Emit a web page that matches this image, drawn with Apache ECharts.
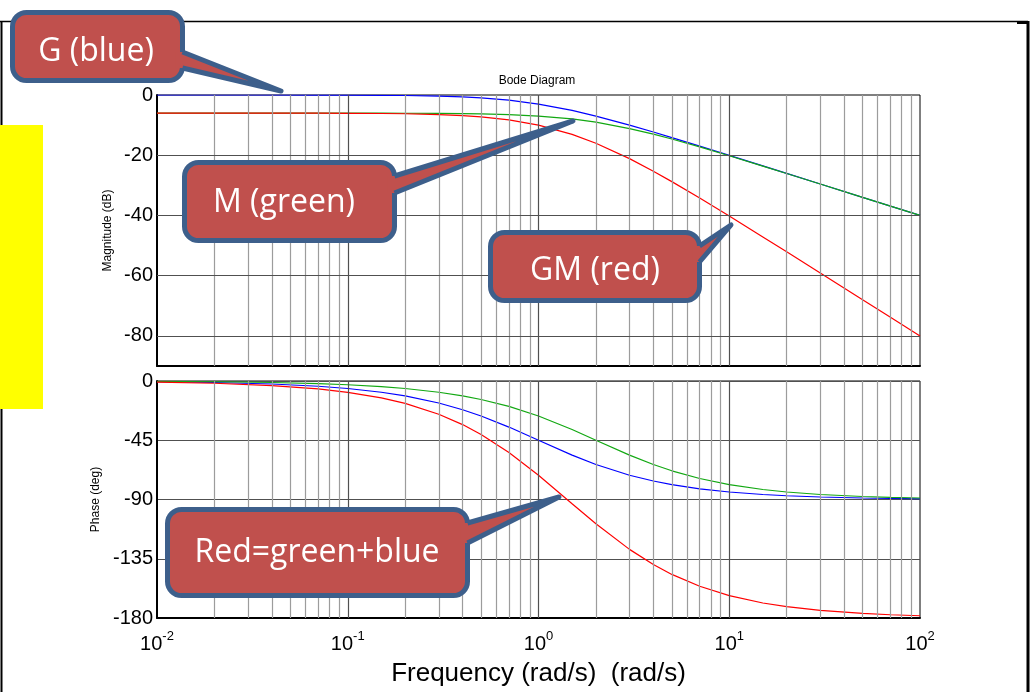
<!DOCTYPE html>
<html>
<head>
<meta charset="utf-8">
<script src="https://cdn.jsdelivr.net/npm/echarts@6/dist/echarts.min.js"></script>
<style>
html,body{margin:0;padding:0;background:#fff;}
#c{width:1032px;height:692px;}
</style>
</head>
<body>
<div id="c"></div>
<script>
// ---- data ----
const freq = [0.01, 0.02, 0.04, 0.07, 0.1, 0.15, 0.2, 0.3, 0.4, 0.5, 0.7, 1, 1.5, 2, 3, 4, 5, 7, 10, 15, 20, 30, 50, 70, 100];
const magG  = [0, -0.002, -0.007, -0.02, -0.04, -0.1, -0.17, -0.37, -0.65, -0.97, -1.73, -3.01, -5.12, -6.99, -10.0, -12.3, -14.15, -16.99, -20.04, -23.54, -26.03, -29.55, -33.98, -36.9, -40.0];
const magM  = [-6.02, -6.02, -6.02, -6.03, -6.03, -6.04, -6.06, -6.12, -6.19, -6.28, -6.52, -6.99, -7.96, -9.03, -11.14, -13.01, -14.62, -17.24, -20.17, -23.6, -26.06, -29.56, -33.99, -36.91, -40.0];
const magGM = [-6.02, -6.02, -6.03, -6.05, -6.07, -6.14, -6.23, -6.49, -6.84, -7.25, -8.25, -10.0, -13.08, -16.02, -21.14, -25.31, -28.77, -34.23, -40.21, -47.14, -52.09, -59.11, -67.97, -73.81, -80.0];
const phG  = [-0.57, -1.15, -2.29, -4.0, -5.71, -8.53, -11.31, -16.7, -21.8, -26.57, -34.99, -45, -56.31, -63.43, -71.57, -75.96, -78.69, -81.87, -84.29, -86.19, -87.14, -88.09, -88.85, -89.18, -89.43];
const phM  = [-0.29, -0.57, -1.15, -2.0, -2.86, -4.29, -5.71, -8.53, -11.31, -14.04, -19.29, -26.57, -36.87, -45, -56.31, -63.43, -68.2, -74.05, -78.69, -82.41, -84.29, -86.19, -87.71, -88.36, -88.85];
const phGM = [-0.86, -1.72, -3.44, -6.0, -8.57, -12.82, -17.02, -25.23, -33.11, -40.61, -54.28, -71.57, -93.18, -108.43, -127.88, -139.39, -146.89, -155.92, -162.98, -168.6, -171.43, -174.28, -176.56, -177.54, -178.28];
const majorFreqs = [0.1, 1, 10];
const minorFreqs = [0.02,0.03,0.04,0.05,0.06,0.07,0.08,0.09, 0.2,0.3,0.4,0.5,0.6,0.7,0.8,0.9, 2,3,4,5,6,7,8,9, 20,30,40,50,60,70,80,90];
const magGridVals = [-20, -40, -60, -80];
const magTicks = [0, -20, -40, -60, -80];

const chart = echarts.init(document.getElementById('c'), null, {renderer: 'canvas'});
const pair = ys => freq.map((f, i) => [f, ys[i]]);

const FONT = 'Liberation Sans, Arial, sans-serif';
const MAJ = '#505050', MIN = '#9c9c9c';

function gridMarks(withH) {
  const d = [];
  minorFreqs.forEach(v => d.push({xAxis: v, lineStyle: {color: MIN, width: 1.2, type: 'solid'}}));
  majorFreqs.forEach(v => d.push({xAxis: v, lineStyle: {color: MAJ, width: 1.2, type: 'solid'}}));
  if (withH) magGridVals.forEach(v => d.push({yAxis: v, lineStyle: {color: MAJ, width: 1.2, type: 'solid'}}));
  return {silent: true, symbol: ['none', 'none'], label: {show: false}, animation: false, data: d};
}

const lineSeries = (name, xi, data, color, mark) => ({
  name, type: 'line', xAxisIndex: xi, yAxisIndex: xi, data, showSymbol: false, symbol: 'none',
  lineStyle: {color, width: 1.2}, itemStyle: {color}, smooth: false, z: 3,
  markLine: mark || undefined
});

const FILL = '#C0504D', BORDER = '#3D5F8B';
function callout(x, y, w, h, text, by1, by2, tx, ty, cx, cy) {
  const rx = x + w;
  return [
    {type: 'rect', z: 100, shape: {x, y, width: w, height: h, r: 14}, style: {fill: FILL, stroke: BORDER, lineWidth: 5}},
    {type: 'polygon', z: 101, shape: {points: [[rx - 7, by1], [rx, by1], [tx, ty], [rx, by2], [rx - 7, by2]]}, style: {fill: FILL}},
    {type: 'polyline', z: 102, shape: {points: [[rx, by1], [tx, ty], [rx, by2]]}, style: {fill: null, stroke: BORDER, lineWidth: 5, lineJoin: 'round'}},
    {type: 'text', z: 103, x: cx, y: cy, style: {text, fill: '#fff', font: '32px "Open Sans", "Noto Sans", sans-serif', textAlign: 'center', textVerticalAlign: 'middle', verticalAlign: 'middle'}}
  ];
}

const option = {
  animation: false,
  backgroundColor: '#fff',
  grid: [
    {left: 157, top: 95, width: 763, height: 271, show: true, borderColor: '#000', borderWidth: 1, backgroundColor: '#fff'},
    {left: 157, top: 381, width: 763, height: 237, show: true, borderColor: '#000', borderWidth: 1, backgroundColor: '#fff'}
  ],
  xAxis: [
    {gridIndex: 0, type: 'log', logBase: 10, min: 0.01, max: 100,
     axisLine: {onZero: false, lineStyle: {color: '#000', width: 2}}, axisTick: {show: false},
     axisLabel: {show: false}, splitLine: {show: false}},
    {gridIndex: 1, type: 'log', logBase: 10, min: 0.01, max: 100,
     axisLine: {onZero: false, lineStyle: {color: '#000', width: 2}}, axisTick: {show: false},
     splitLine: {show: false},
     axisLabel: {
       margin: 12, showMinLabel: true, showMaxLabel: true,
       formatter: v => '{b|10}{s|' + Math.round(Math.log10(v)) + '}',
       rich: {
         b: {fontSize: 20, fontFamily: FONT, color: '#000', lineHeight: 28},
         s: {fontSize: 13, fontFamily: FONT, color: '#000', lineHeight: 14, verticalAlign: 'top'}
       }
     },
     name: 'Frequency (rad/s)  (rad/s)', nameLocation: 'middle', nameGap: 43,
     nameTextStyle: {fontSize: 26, fontFamily: FONT, color: '#000'}}
  ],
  yAxis: [
    {gridIndex: 0, type: 'value', min: -90, max: 0, interval: 10,
     axisLine: {show: true, onZero: false, lineStyle: {color: '#000', width: 2}}, axisTick: {show: false},
     splitLine: {show: false},
     axisLabel: {margin: 4, fontSize: 20, fontFamily: FONT, color: '#000',
       formatter: v => (magTicks.indexOf(v) >= 0 ? String(v) : '')},
     name: 'Magnitude (dB)', nameLocation: 'middle', nameGap: 42,
     nameTextStyle: {fontSize: 12, fontFamily: FONT, color: '#000'}},
    {gridIndex: 1, type: 'value', min: -180, max: 0, interval: 45,
     axisLine: {show: true, onZero: false, lineStyle: {color: '#000', width: 2}}, axisTick: {show: false},
     splitLine: {show: true, lineStyle: {color: MAJ, width: 1.2}},
     axisLabel: {margin: 4, fontSize: 20, fontFamily: FONT, color: '#000'},
     name: 'Phase (deg)', nameLocation: 'middle', nameGap: 52,
     nameTextStyle: {fontSize: 12, fontFamily: FONT, color: '#000'}}
  ],
  series: [
    lineSeries('G mag', 0, pair(magG), '#0000FF', gridMarks(true)),
    lineSeries('M mag', 0, pair(magM), '#12A812'),
    lineSeries('GM mag', 0, pair(magGM), '#FF0000'),
    lineSeries('G phase', 1, pair(phG), '#0000FF', gridMarks(false)),
    lineSeries('M phase', 1, pair(phM), '#12A812'),
    lineSeries('GM phase', 1, pair(phGM), '#FF0000')
  ],
  graphic: [
    // frame
    {type: 'line', z: 90, shape: {x1: 0, y1: 21.5, x2: 1028, y2: 21.5}, style: {stroke: '#000', lineWidth: 1.5}},
    {type: 'line', z: 90, shape: {x1: 1017, y1: 22.5, x2: 1029, y2: 22.5}, style: {stroke: '#000', lineWidth: 3}},
    {type: 'line', z: 90, shape: {x1: 1028, y1: 21, x2: 1028, y2: 692}, style: {stroke: '#000', lineWidth: 3}},
    {type: 'line', z: 90, shape: {x1: 1.5, y1: 21, x2: 1.5, y2: 692}, style: {stroke: '#000', lineWidth: 2}},
    {type: 'rect', z: 91, shape: {x: 0, y: 125, width: 43, height: 284}, style: {fill: '#FFFF00'}},
    {type: 'text', z: 92, x: 537, y: 81, style: {text: 'Bode Diagram', fill: '#000', font: '12px "Liberation Sans", Arial, sans-serif', textAlign: 'center', textVerticalAlign: 'middle', verticalAlign: 'middle'}}
  ]
    .concat(callout(12.5, 12.5, 170, 68, 'G (blue)', 52, 68, 281, 91, 96, 52))
    .concat(callout(184.5, 162.5, 210, 78, 'M (green)', 176, 193, 573, 121, 284, 203))
    .concat(callout(490.5, 232.5, 209, 68, 'GM (red)', 246, 262, 731, 225, 595, 271))
    .concat(callout(167.5, 509.5, 300, 86, 'Red=green+blue', 523, 543, 559, 497, 317, 553))
};
chart.setOption(option);
</script>
</body>
</html>
